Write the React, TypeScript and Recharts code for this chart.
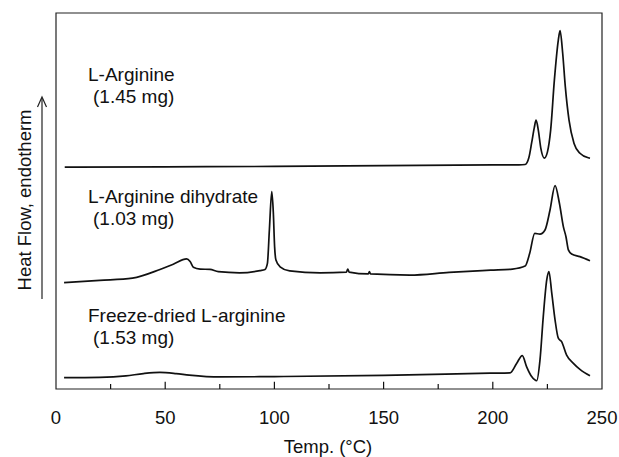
import { LineChart, Line, XAxis, YAxis, ReferenceArea, ReferenceLine } from "recharts";

// DSC traces, heat flow in arbitrary units (offset per sample)
const argTemp = [4, 50, 100, 150, 200, 212, 214.8, 216.5, 217.8, 219, 219.8, 220.8, 222, 223.6, 225, 226.5, 228.2, 230, 230.8, 232, 233.2, 234.9, 237.2, 239.9, 243.7, 244.5];
const argFlow = [59.0, 59.1, 59.2, 59.4, 59.6, 59.6, 59.7, 61.5, 65.5, 69.5, 71.5, 69, 64, 61.4, 63, 68.9, 82.2, 92.8, 95.3, 89.3, 80.4, 71.5, 65.3, 62.7, 61.5, 61.4];

const dihTemp = [3.7, 20, 35, 47.6, 53.7, 59.8, 61.4, 62.9, 66, 70.5, 74.3, 84, 93.4, 95.7, 96.8, 97.7, 98.8, 99.5, 100.1, 100.7, 102.6, 107, 121, 133, 133.6, 134.2, 143, 143.5, 144, 162, 180, 199, 209, 214.8, 216.9, 219.2, 221.6, 223.9, 226.2, 228.5, 230.5, 232.3, 233.5, 234.6, 236.1, 239.9, 244.5];
const dihFlow = [28.3, 28.9, 29.5, 31.8, 33.2, 34.6, 33.9, 32.4, 31.9, 31.8, 31.2, 30.9, 31.5, 31.8, 33.4, 42.3, 52.5, 47, 37.8, 34.3, 32.5, 31.4, 30.9, 31.1, 31.9, 31.1, 30.6, 31.2, 30.6, 30.3, 31, 31.6, 31.9, 32.7, 36.1, 41.4, 41.2, 42.3, 47.6, 54.1, 49.4, 43.2, 40.5, 37, 35.9, 35.2, 34.1];

const fdTemp = [3.7, 20, 32, 40, 47.6, 55, 61, 75, 100, 150, 198.7, 207.9, 210.9, 213.5, 215.5, 217.8, 220.1, 221.6, 223.1, 224.7, 225.7, 227, 228.5, 230, 231.5, 233.8, 236.9, 239.9, 244.5];
const fdFlow = [3.0, 3.1, 3.5, 4.1, 4.4, 4.1, 3.7, 3.2, 3.3, 3.6, 4.2, 4.3, 6.8, 8.9, 5.9, 3.3, 2.2, 7.7, 19.2, 29, 31.2, 25.5, 18.4, 13.5, 12.6, 9, 6.8, 5.2, 3.5];

const majorTicks = [0, 50, 100, 150, 200, 250];
const minorTicks = [25, 75, 125, 175, 225];

const FONT = "'Liberation Sans', Arial, sans-serif";

const toRows = (t: number[], v: number[]) => t.map((temp, i) => ({ temp, flow: v[i] }));

export default function App() {
  const lineProps = {
    dataKey: "flow",
    type: "monotone" as const,
    stroke: "#111",
    strokeWidth: 1.7,
    dot: false,
    isAnimationActive: false,
  };
  return (
    <div style={{ position: "absolute", left: 0, top: 0, background: "#fff" }}>
      <LineChart width={619} height={457} margin={{ top: 13, right: 17, left: 56, bottom: 38 }}>
        <XAxis
          type="number"
          dataKey="temp"
          domain={[0, 250]}
          ticks={majorTicks}
          height={30}
          axisLine={false}
          tickLine={false}
          tickSize={0}
          tickMargin={22}
          tick={{ fontSize: 18.5, fontFamily: FONT, fill: "#111" }}
          interval={0}
          allowDataOverflow
        />
        <YAxis type="number" domain={[0, 100]} hide />
        <ReferenceArea x1={0} x2={250} y1={0} y2={100} fill="none" stroke="#222" strokeWidth={1.2} />
        {majorTicks.slice(1, -1).map((t) => (
          <ReferenceLine key={t} segment={[{ x: t, y: 0 }, { x: t, y: 1.9 }]} stroke="#111" strokeWidth={1.2} />
        ))}
        {minorTicks.map((t) => (
          <ReferenceLine key={t} segment={[{ x: t, y: 0 }, { x: t, y: 1.3 }]} stroke="#111" strokeWidth={1.2} />
        ))}
        <Line {...lineProps} data={toRows(argTemp, argFlow)} />
        <Line {...lineProps} data={toRows(dihTemp, dihFlow)} />
        <Line {...lineProps} data={toRows(fdTemp, fdFlow)} />
        <g fontFamily={FONT} fontSize={19} fill="#111">
          <text x={88} y={81}>L-Arginine</text>
          <text x={93} y={103}>(1.45 mg)</text>
          <text x={88} y={203}>L-Arginine dihydrate</text>
          <text x={93} y={225}>(1.03 mg)</text>
          <text x={88} y={322}>Freeze-dried L-arginine</text>
          <text x={93} y={344}>(1.53 mg)</text>
        </g>
        <text x={328} y={453} textAnchor="middle" fontFamily={FONT} fontSize={18.5} fill="#111">
          Temp. (°C)
        </text>
        <text
          x={31}
          y={200}
          transform="rotate(-90 31 200)"
          textAnchor="middle"
          fontFamily={FONT}
          fontSize={18.5}
          fill="#111"
        >
          Heat Flow, endotherm
        </text>
        <line x1={42} x2={42} y1={299} y2={98} stroke="#222" strokeWidth={1.2} />
        <polyline points="37.5,107 42,97 46.5,107" fill="none" stroke="#222" strokeWidth={1.2} />
      </LineChart>
    </div>
  );
}
